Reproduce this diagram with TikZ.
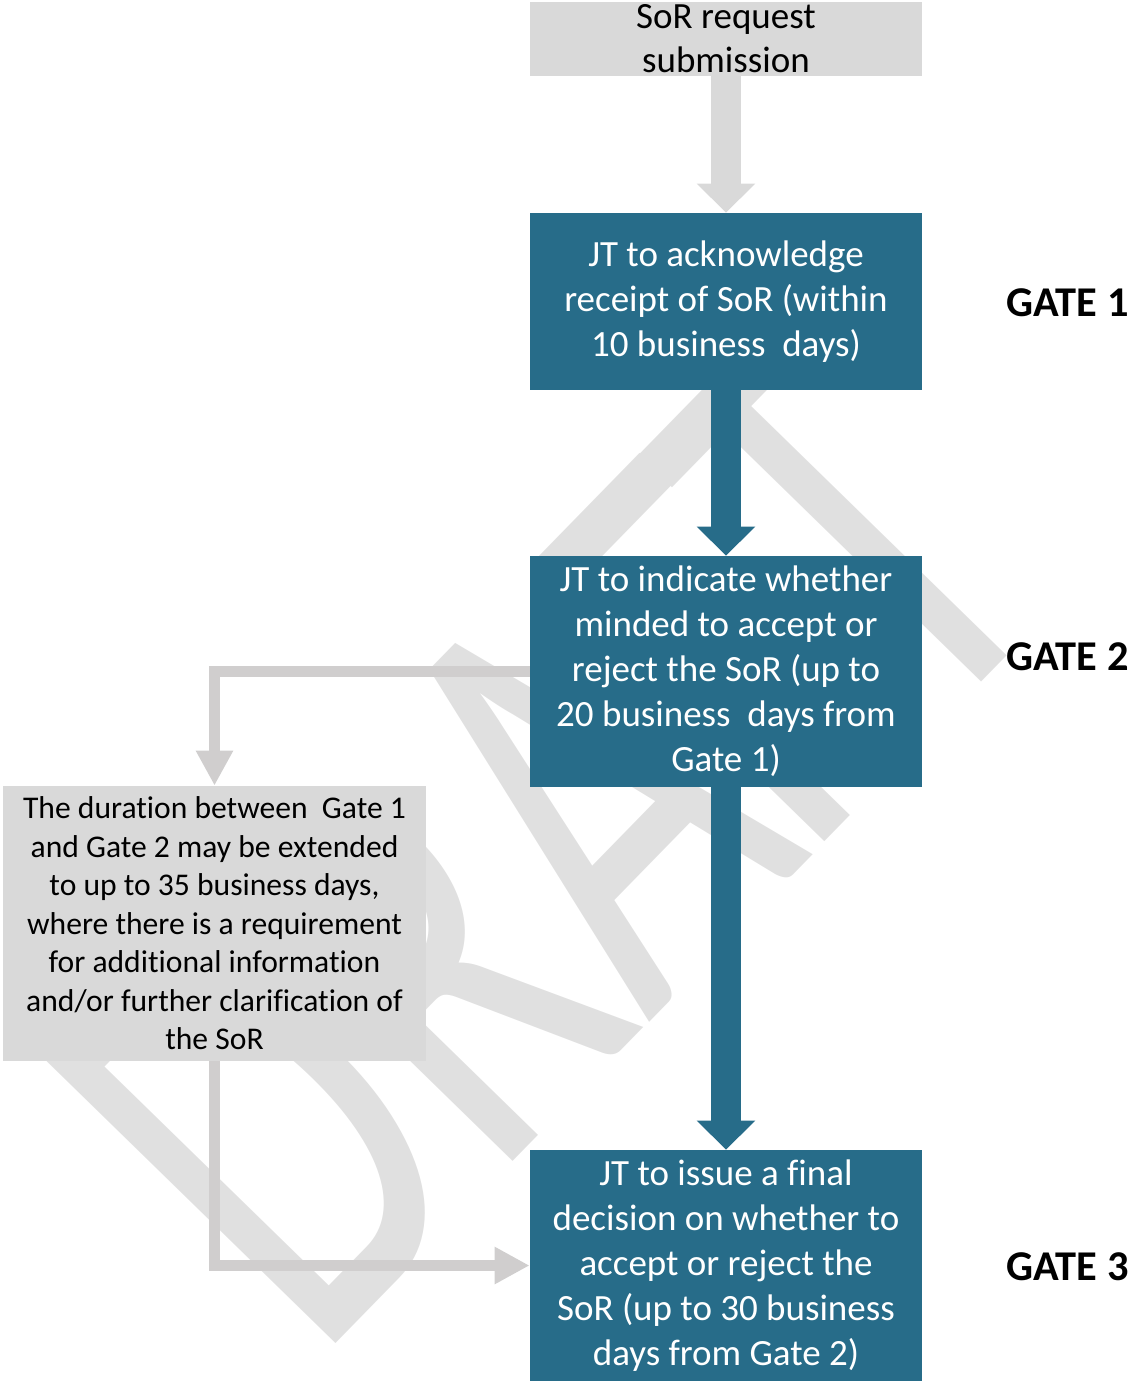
\documentclass[tikz,border=0pt]{standalone}
\usepackage{fontspec}
\setmainfont{Carlito}[Ligatures=NoCommon]
\usetikzlibrary{arrows.meta}
\definecolor{teal1}{HTML}{276C89}
\definecolor{boxgray}{HTML}{D9D9D9}
\definecolor{congray}{HTML}{D0CECE}
\definecolor{wmgray}{HTML}{E0E0E0}
\tikzset{
  tealbox/.style={rectangle, fill=teal1, text=white, align=center, inner sep=0pt,
    minimum width=196pt, font=\fontsize{18.5pt}{22.5pt}\selectfont},
  graybox/.style={rectangle, fill=boxgray, text=black, align=center, inner sep=0pt},
  bigarrow/.style={line width=15pt, -{Triangle[width=28.5pt,length=14.5pt]}},
  thinconn/.style={draw=congray, line width=5.5pt, -{Triangle[width=17.5pt,length=17.5pt]}},
  gatelabel/.style={anchor=east, inner sep=0pt, font=\bfseries\fontsize{21.2pt}{26pt}\selectfont}
}
\begin{document}
\begin{tikzpicture}[x=0.5pt,y=-0.5pt]
\useasboundingbox (0,0) rectangle (1134,1383);
% watermark
\begin{scope}[shift={(316.6,1363.3)}, rotate=45.7, xscale=0.652]
  \node[transform shape, anchor=base west, inner sep=0pt, text=wmgray,
        font=\fontsize{314.5pt}{314.5pt}\selectfont] (wm) at (0,0) {DRA\kern-0.03em F\kern-0.044em T};
\end{scope}
% boxes
\node[graybox, minimum width=196pt, minimum height=37pt,
      font=\fontsize{18.5pt}{22pt}\selectfont] (sub) at (726,39) {SoR request\\submission};
\node[tealbox, minimum height=88.5pt] (b1) at (726,301.5)
  {JT to acknowledge\\receipt of SoR (within\\10 business\ \ days)};
\node[tealbox, minimum height=115.5pt] (b2) at (726,671.5)
  {JT to indicate whether\\minded to accept or\\reject the SoR (up to\\20 business\ \ days from\\Gate 1)};
\node[tealbox, minimum height=115.5pt] (b3) at (726,1265.5)
  {JT to issue a final\\decision on whether to\\accept or reject the\\SoR (up to 30 business\\days from Gate 2)};
\node[graybox, minimum width=211.5pt, minimum height=137.5pt,
      font=\fontsize{15.8pt}{19.25pt}\selectfont] (note) at (214.5,923.5)
  {The duration between\ \ Gate 1\\and Gate 2 may be extended\\to up to 35 business days,\\where there is a requirement\\for additional information\\and/or further clarification of\\the SoR};
% arrows
\draw[bigarrow, draw=boxgray] (sub.south) -- (b1.north);
\draw[bigarrow, draw=teal1] (b1.south) -- (b2.north);
\draw[bigarrow, draw=teal1] (b2.south) -- (b3.north);
\draw[thinconn] (b2.west) -| (note.north);
\draw[thinconn] (note.south) |- (b3.west);
% gate labels
\node[gatelabel] (g1) at (1129,303) {GATE 1};
\node[gatelabel] (g2) at (1129,657) {GATE 2};
\node[gatelabel] (g3) at (1129,1267) {GATE 3};
\end{tikzpicture}
\end{document}
